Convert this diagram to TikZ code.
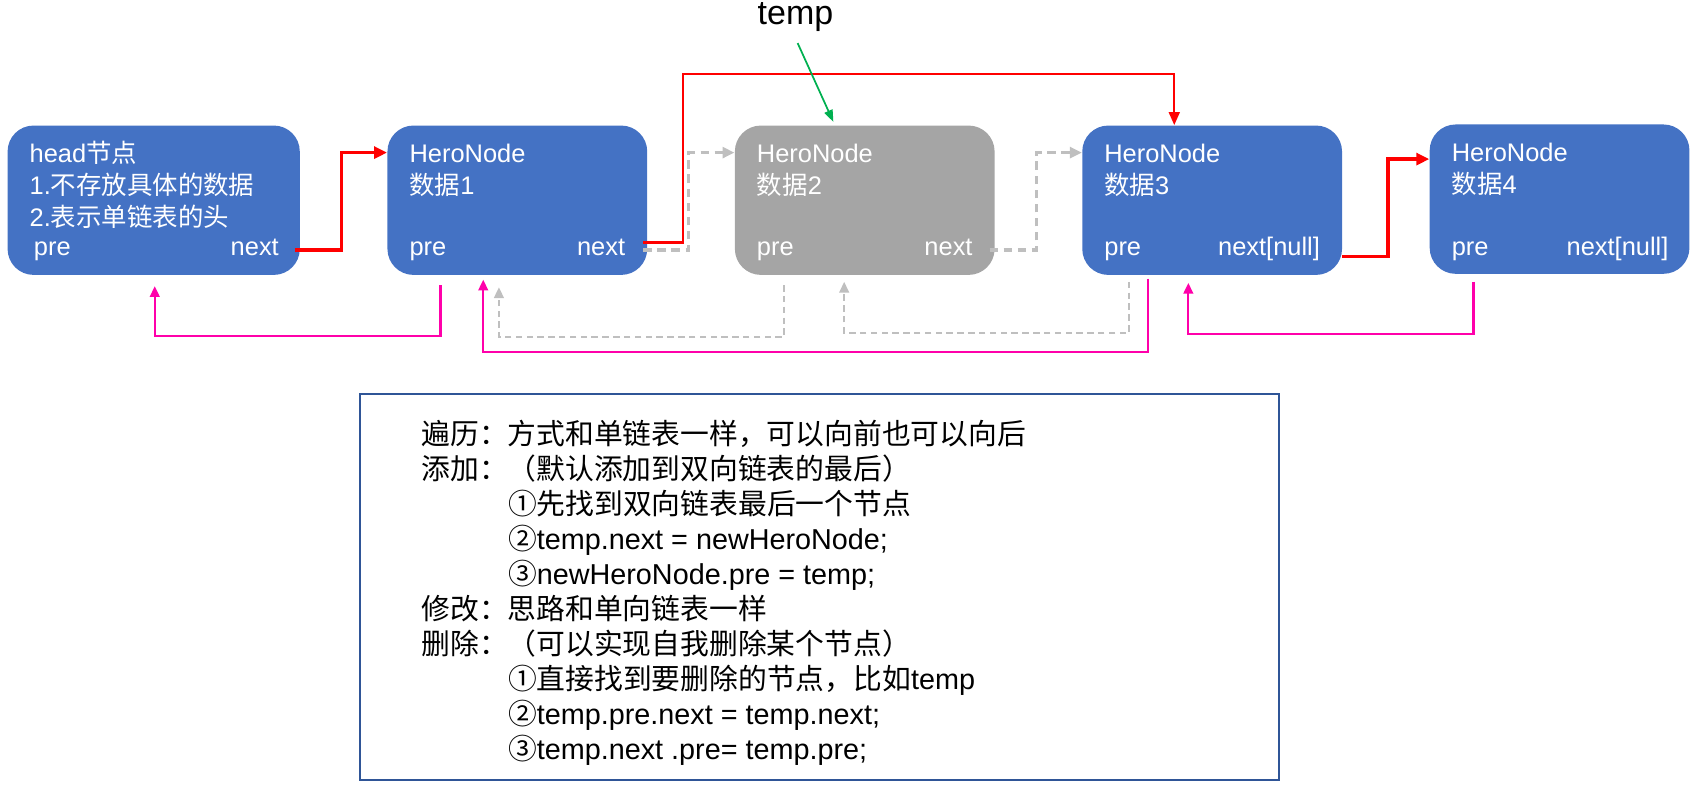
\documentclass[tikz,border=0pt]{standalone}
\usepackage{fontspec}
\setmainfont{Liberation Sans}
\newfontfamily\cjk{Noto Sans CJK SC}
\newcommand\zhx[1]{{\cjk #1}}
\usetikzlibrary{arrows.meta,calc}
\definecolor{nodeblue}{HTML}{4472C4}
\definecolor{nodegray}{HTML}{A5A5A5}
\definecolor{dashgray}{HTML}{BFBFBF}
\definecolor{linkred}{HTML}{FF0000}
\definecolor{linkpink}{HTML}{FF00AA}
\definecolor{linkgreen}{HTML}{00B050}
\definecolor{panelblue}{HTML}{2F5597}
\begin{document}
\begin{tikzpicture}[x=0.5pt,y=-0.5pt,
  box/.style={rounded corners=12pt, minimum width=120pt, minimum height=69pt, inner sep=0pt, draw=none},
  bluebox/.style={box, fill=nodeblue},
  graybox/.style={box, fill=nodegray},
  wtxt/.style={text=white, inner sep=0pt, font=\fontsize{11.75pt}{14pt}\selectfont},
  btxt/.style={text=black, inner sep=0pt, anchor=base west, font=\fontsize{13.3pt}{16pt}\selectfont},
  redthick/.style={draw=linkred, line width=1.7pt, -{Triangle[length=6pt,width=5.5pt]}},
  redthin/.style={draw=linkred, line width=1pt, -{Triangle[length=6pt,width=5pt]}},
  graydash/.style={draw=dashgray, line width=1.4pt, dash pattern=on 4pt off 2.5pt, -{Triangle[length=5.5pt,width=5pt]}},
  graydashthin/.style={draw=dashgray, line width=0.9pt, dash pattern=on 3pt off 2pt, -{Triangle[length=5pt,width=4.5pt]}},
  pinkline/.style={draw=linkpink, line width=1pt, -{Triangle[length=5pt,width=4.5pt]}},
  greenline/.style={draw=linkgreen, line width=0.8pt, -{Triangle[length=5.5pt,width=4pt]}},
  panel/.style={draw=panelblue, line width=1pt, fill=none, minimum width=424.5pt, minimum height=178.5pt, inner sep=0pt}
]
\useasboundingbox (0,0) rectangle (1568,729);

% boxes
\node[bluebox, minimum width=135pt] (head) at (142,185) {};
\node[bluebox] (n1) at (478,185) {};
\node[graybox] (n2) at (799,185) {};
\node[bluebox] (n3) at (1120,185) {};
\node[bluebox] (n4) at (1441,184) {};

% head texts
\node[wtxt, anchor=base west] (h1) at (27,150) {head\zhx{节点}};
\node[wtxt, anchor=base west] (h2) at (27,180) {1.\zhx{不存放具体的数据}};
\node[wtxt, anchor=base west] (h3) at (27,209) {2.\zhx{表示单链表的头}};
\node[wtxt, anchor=base west] (hp) at (31,236) {pre};
\node[wtxt, anchor=base east] (hn) at (258,236) {next};

% node 1
\node[wtxt, anchor=base west] (a1) at (378,150) {HeroNode};
\node[wtxt, anchor=base west] (a2) at (378,180) {\zhx{数据}1};
\node[wtxt, anchor=base west] (ap) at (378,236) {pre};
\node[wtxt, anchor=base east] (an) at (578,236) {next};

% node 2
\node[wtxt, anchor=base west] (b1) at (699,150) {HeroNode};
\node[wtxt, anchor=base west] (b2) at (699,180) {\zhx{数据}2};
\node[wtxt, anchor=base west] (bp) at (699,236) {pre};
\node[wtxt, anchor=base east] (bn) at (899,236) {next};

% node 3
\node[wtxt, anchor=base west] (c1) at (1020,150) {HeroNode};
\node[wtxt, anchor=base west] (c2) at (1020,180) {\zhx{数据}3};
\node[wtxt, anchor=base west] (cp) at (1020,236) {pre};
\node[wtxt, anchor=base east] (cn) at (1220,236) {next[null]};

% node 4
\node[wtxt, anchor=base west] (d1) at (1341,149) {HeroNode};
\node[wtxt, anchor=base west] (d2) at (1341,179) {\zhx{数据}4};
\node[wtxt, anchor=base west] (dp) at (1341,236) {pre};
\node[wtxt, anchor=base east] (dn) at (1542,236) {next[null]};

% temp label
\node[inner sep=0pt, font=\fontsize{15.7pt}{18pt}\selectfont] (temp) at (735,16) {temp};

% forward links
\draw[redthick] ($(head.east)+(-5,46)$) -| ($(n1.west)+(-42,-44)$) -- ($(n1.west)+(0,-44)$);
\draw[redthin] ($(n1.east)+(-4,39)$) -| ($(n1.east)+(33,-117)$) -| ($(n3.north)+(-35,0)$);
\draw[graydash] ($(n1.east)+(-4,46)$) -| ($(n2.west)+(-42,-44)$) -- ($(n2.west)+(0,-44)$);
\draw[graydash] ($(n2.east)+(-5,46)$) -| ($(n3.west)+(-42,-44)$) -- ($(n3.west)+(0,-44)$);
\draw[redthick] ($(n3.east)+(0,52)$) -| ($(n4.west)+(-38,-37)$) -- ($(n4.west)+(0,-37)$);

% temp pointer
\draw[greenline] ($(temp.south)+(2,10)$) -- ($(n2.north)+(-29,-3)$);

% backward links
\draw[pinkline] ($(n1.south)+(-71,9)$) |- ($(head.south)+(1,56)$) -- ($(head.south)+(1,10)$);
\draw[graydashthin] ($(n2.south)+(-74.5,9)$) |- ($(n1.south)+(-17,57)$) -- ($(n1.south)+(-17,11)$);
\draw[pinkline] ($(n3.south)+(-59,3)$) |- ($(n1.south)+(-31.5,71)$) -- ($(n1.south)+(-31.5,4)$);
\draw[graydashthin] ($(n3.south)+(-76.5,6)$) |- ($(n2.south)+(-19,53)$) -- ($(n2.south)+(-19,6)$);
\draw[pinkline] ($(n4.south)+(-79.5,7)$) |- ($(n3.south)+(-22,54)$) -- ($(n3.south)+(-22,7)$);

% explanation panel
\node[panel] (box) at (757.5,542.5) {};
\node[btxt] (l1) at (389,411) {\zhx{遍历：方式和单链表一样，可以向前也可以向后}};
\node[btxt] (l2) at (389,443.3) {\zhx{添加：（默认添加到双向链表的最后）}};
\node[btxt] (l3) at (469,475.6) {\zhx{①先找到双向链表最后一个节点}};
\node[btxt] (l4) at (469,507.9) {\zhx{②}temp.next = newHeroNode;};
\node[btxt] (l5) at (469,540.2) {\zhx{③}newHeroNode.pre = temp;};
\node[btxt] (l6) at (389,572.5) {\zhx{修改：思路和单向链表一样}};
\node[btxt] (l7) at (389,604.8) {\zhx{删除：（可以实现自我删除某个节点）}};
\node[btxt] (l8) at (469,637.1) {\zhx{①直接找到要删除的节点，比如}temp};
\node[btxt] (l9) at (469,669.4) {\zhx{②}temp.pre.next = temp.next;};
\node[btxt] (l10) at (469,701.7) {\zhx{③}temp.next .pre= temp.pre;};
\end{tikzpicture}
\end{document}
